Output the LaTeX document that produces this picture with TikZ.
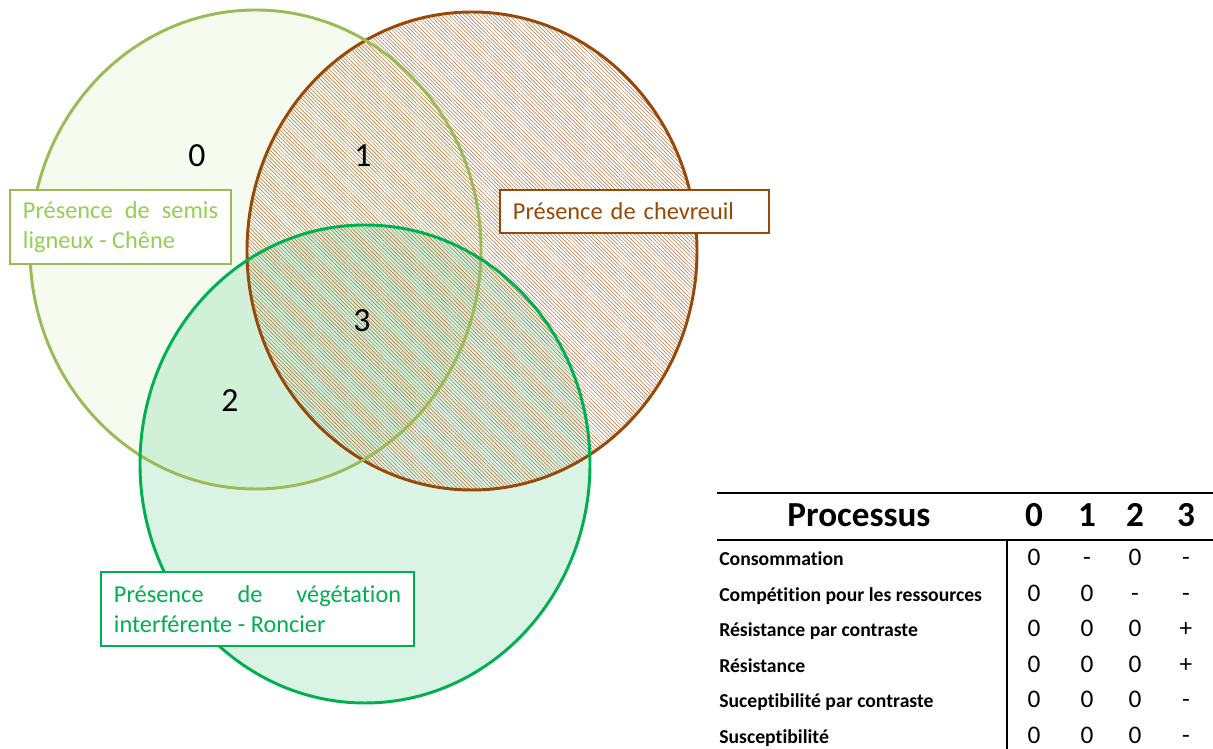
\documentclass[tikz,border=0pt]{standalone}
\usepackage{fontspec}
\setmainfont[Ligatures={NoCommon}]{Carlito}
\usetikzlibrary{patterns.meta}
\definecolor{semiscolor}{RGB}{155,187,89}
\definecolor{semistext}{RGB}{146,208,80}
\definecolor{chevcolor}{RGB}{152,72,7}
\definecolor{roncecolor}{RGB}{0,176,80}
\hyphenpenalty=10000
\exhyphenpenalty=10000

\begin{document}
\begin{tikzpicture}[
    x=0.025cm, y=0.025cm,
    setline/.style={line width=2.1pt},
    lblbox/.style={draw, line width=0.9pt, fill=white, inner xsep=0.325cm,
       inner ysep=2pt, align=justify, font=\fontsize{17.3}{21}\selectfont},
    zone/.style={anchor=base, font=\fontsize{24}{28}\selectfont},
    head/.style={anchor=base, font=\bfseries\fontsize{25}{28}\selectfont},
    rowlbl/.style={anchor=base west, inner xsep=0pt, font=\bfseries\fontsize{14}{16}\selectfont},
    val/.style={anchor=base, font=\fontsize{18}{20}\selectfont}
  ]
    \useasboundingbox (0,0) rectangle (1213,749);

    % Fills of the three sets
    \fill[semistext, opacity=0.09] (255.5,499.5) ellipse [x radius=225.5, y radius=239.5];
    \fill[roncecolor, opacity=0.15] (365,285) ellipse [x radius=225, y radius=239];
    \fill[pattern={Lines[angle=-45, distance=1.9pt, line width=0.35pt]},
          pattern color=chevcolor!80] (472,498) ellipse [x radius=225, y radius=239];

    % Outlines
    \draw[setline, chevcolor]  (472,498) ellipse [x radius=225, y radius=239];
    \draw[setline, semiscolor] (255.5,499.5) ellipse [x radius=225.5, y radius=239.5];
    \draw[setline, roncecolor] (365,285) ellipse [x radius=225, y radius=239];

    % Zone numbers
    \node[zone] (z0) at (197,582) {0};
    \node[zone] (z1) at (363,582) {1};
    \node[zone] (z2) at (230,337) {2};
    \node[zone] (z3) at (362,417) {3};

    % Set labels
    \node[lblbox, draw=semiscolor, text=semistext, text width=4.875cm,
          minimum height=1.85cm] (lsemis) at (120.5,522)
          {Présence de semis ligneux - Chêne};
    \node[lblbox, draw=chevcolor, text=chevcolor, text width=6.075cm, align=left,
          minimum height=1.075cm] (lchev) at (634.5,537.5)
          {Présence de chevreuil};
    \node[lblbox, draw=roncecolor, text=roncecolor, text width=7.175cm,
          minimum height=1.85cm] (lronce) at (257.5,140)
          {Présence de végétation interférente - Roncier};

    % Table
    \draw[line width=1.4pt] (717,256) -- (1213,256);
    \draw[line width=1pt] (717,209) -- (1213,209);
    \draw[line width=1pt] (1007,209) -- (1007,0);
    \node[head] (hproc) at (859,222) {Processus};
    \foreach \c/\x in {0/1034,1/1087,2/1135,3/1186}
      \node[head] (h\c) at (\x,222) {\c};

    \foreach \lbl/\a/\b/\c/\d/\y [count=\i] in {
        Consommation/0/-/0/-/183,
        Compétition pour les ressources/0/0/-/-/147.5,
        Résistance par contraste/0/0/0/+/112,
        Résistance/0/0/0/+/76.5,
        Suceptibilité par contraste/0/0/0/-/41,
        Susceptibilité/0/0/0/-/5.5} {
      \node[rowlbl] (r\i) at (719,\y) {\lbl};
      \node[val] (v\i a) at (1034,\y) {\a};
      \node[val] (v\i b) at (1087,\y) {\b};
      \node[val] (v\i c) at (1135,\y) {\c};
      \node[val] (v\i d) at (1186,\y) {\d};
    }
\end{tikzpicture}
\end{document}
